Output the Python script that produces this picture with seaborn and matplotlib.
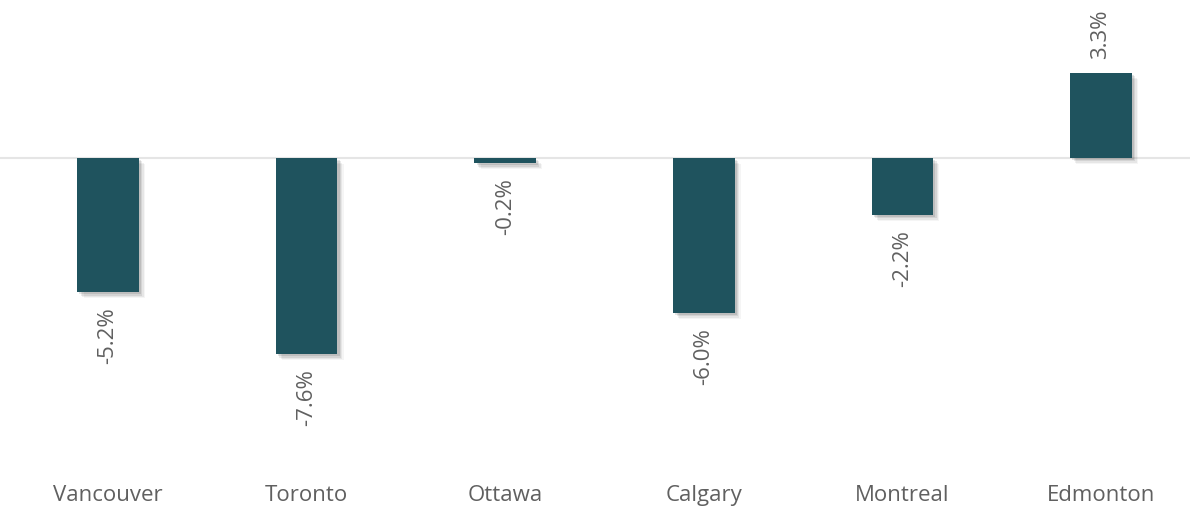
import matplotlib
matplotlib.use("Agg")
import matplotlib.pyplot as plt
import matplotlib.patheffects as pe
import seaborn as sns
import pandas as pd

cities = ["Vancouver", "Toronto", "Ottawa", "Calgary", "Montreal", "Edmonton"]
changes = [-5.2, -7.6, -0.2, -6.0, -2.2, 3.3]
value_labels = ["-5.2%", "-7.6%", "-0.2%", "-6.0%", "-2.2%", "3.3%"]

bar_color = "#1f535e"
text_color = "#606060"

sns.set_theme(style="white")
plt.rcParams["font.family"] = ["Open Sans", "DejaVu Sans"]

df = pd.DataFrame({"city": cities, "change": changes})

fig = plt.figure(figsize=(11.9, 5.1), dpi=100)
ax = fig.add_axes([0.0, 1 - 460 / 510, 1.0, 460 / 510])

sns.barplot(data=df, x="city", y="change", color=bar_color, width=0.31,
            saturation=1, ax=ax, zorder=3)

# soft drop shadow under each bar
shadow = [
    pe.SimplePatchShadow(offset=(4.5, -4.5), shadow_rgbFace="#000000", alpha=0.04),
    pe.SimplePatchShadow(offset=(3.5, -3.5), shadow_rgbFace="#000000", alpha=0.06),
    pe.SimplePatchShadow(offset=(2.5, -2.5), shadow_rgbFace="#000000", alpha=0.08),
    pe.SimplePatchShadow(offset=(1.5, -1.5), shadow_rgbFace="#000000", alpha=0.10),
    pe.Normal(),
]
for bar in ax.patches:
    bar.set_path_effects(shadow)
    bar.set_edgecolor("none")

ax.axhline(0, color="#e5e5e5", lw=1.5, zorder=1)

for bar, v, lab in zip(ax.patches, changes, value_labels):
    xc = bar.get_x() + bar.get_width() / 2
    if v >= 0:
        ax.annotate(lab, (xc, v), xytext=(0, 11), textcoords="offset points",
                    rotation=90, ha="center", va="bottom", fontsize=16,
                    color=text_color)
    else:
        ax.annotate(lab, (xc, v), xytext=(0, -10), textcoords="offset points",
                    rotation=90, ha="center", va="top", fontsize=16,
                    color=text_color)

ax.set_xlim(-0.544, 5.448)
ax.set_ylim(-(460 - 159) / 25.8, 159 / 25.8)
ax.set_xlabel("")
ax.set_ylabel("")
ax.set_yticks([])
ax.tick_params(axis="x", length=0, pad=18, labelsize=16, labelcolor=text_color)
for s in ax.spines.values():
    s.set_visible(False)

fig.savefig("out.png", dpi=100, facecolor="white")
